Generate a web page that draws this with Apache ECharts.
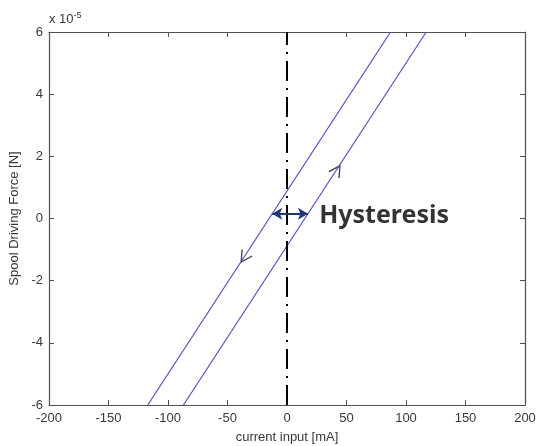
<!DOCTYPE html>
<html>
<head>
<meta charset="utf-8">
<script src="https://cdn.jsdelivr.net/npm/echarts@6/dist/echarts.min.js"></script>
<style>
  html, body { margin: 0; padding: 0; background: #fff; }
  #chart { width: 536px; height: 446px; }
</style>
</head>
<body>
<div id="chart"></div>
<script>
// Spool driving force vs. current input (force in units of 1e-5 N)
var xTicks = [-200, -150, -100, -50, 0, 50, 100, 150, 200];
var yTicks = [-6, -4, -2, 0, 2, 4, 6];

// Two parallel branches of the hysteresis loop: [current mA, force]
var branchLeft  = [[-117, -6], [87, 6]];
var branchRight = [[-87, -6], [117, 6]];

// Direction markers on each branch
var arrowUp   = [[42, 1.55]];
var arrowDown = [[-36, -1.25]];

// Reference line at zero current
var zeroLine = [[0, -6], [0, 6]];

// Hysteresis width indicator (between the two branches) and its label
var widthArrow = [[-12.4, 0.15], [17.6, 0.15]];
var widthLabel = [[27, 0.1]];
var labelText = 'Hysteresis';

var axisColor = '#505050';
var textColor = '#383838';
var lineColor = '#5252c0';
var font = 'Liberation Sans, Arial, sans-serif';

var chevron = 'path://M0,0 L10,5 L0,10';

var chart = echarts.init(document.getElementById('chart'));

function baseX(pos, show) {
  return {
    type: 'value', position: pos,
    min: xTicks[0], max: xTicks[xTicks.length - 1], interval: 50,
    splitLine: { show: false },
    axisLine: { show: true, onZero: false, lineStyle: { color: axisColor, width: 1.2 } },
    axisTick: { show: true, inside: true, length: 5, lineStyle: { color: axisColor } },
    axisLabel: { show: show, color: textColor, fontSize: 13, fontFamily: font, margin: 7 }
  };
}
function baseY(pos, show) {
  return {
    type: 'value', position: pos,
    min: yTicks[0], max: yTicks[yTicks.length - 1], interval: 2,
    splitLine: { show: false },
    axisLine: { show: true, onZero: false, lineStyle: { color: axisColor, width: 1.2 } },
    axisTick: { show: true, inside: true, length: 5, lineStyle: { color: axisColor } },
    axisLabel: { show: show, color: textColor, fontSize: 13, fontFamily: font, margin: 6 }
  };
}

var xBottom = baseX('bottom', true);
xBottom.name = 'current input [mA]';
xBottom.nameLocation = 'middle';
xBottom.nameGap = 26;
xBottom.nameTextStyle = { color: textColor, fontSize: 13, fontFamily: font };

var yLeft = baseY('left', true);
yLeft.name = 'Spool Driving Force [N]';
yLeft.nameLocation = 'middle';
yLeft.nameGap = 23;
yLeft.nameTextStyle = { color: textColor, fontSize: 13, fontFamily: font };

var option = {
  animation: false,
  backgroundColor: '#fff',
  grid: { left: 49, right: 11, top: 32, bottom: 41, containLabel: false, outerBoundsMode: 'none' },
  xAxis: [xBottom, baseX('top', false)],
  yAxis: [yLeft, baseY('right', false)],
  graphic: [{
    type: 'text', left: 49, top: 11,
    style: {
      text: 'x 10{s|-5}',
      rich: { s: { fontSize: 9, verticalAlign: 'top', padding: [0, 0, 8, 0], fill: textColor, fontFamily: font } },
      fill: textColor, fontSize: 13, fontFamily: font
    }
  }],
  series: [
    { type: 'line', data: branchLeft, symbol: 'none', lineStyle: { color: lineColor, width: 1.2 } },
    { type: 'line', data: branchRight, symbol: 'none', lineStyle: { color: lineColor, width: 1.2 } },
    { type: 'line', data: zeroLine, symbol: 'none',
      lineStyle: { color: '#000', width: 2, type: [20, 7, 2, 7] } },
    { type: 'line', data: widthArrow, symbol: 'none', lineStyle: { width: 0, opacity: 0 },
      markLine: {
        silent: true, symbol: ['arrow', 'arrow'], symbolSize: [9, 10],
        lineStyle: { color: '#1c3678', width: 2, type: 'solid' },
        label: { show: false },
        data: [[{ coord: widthArrow[0] }, { coord: widthArrow[1] }]]
      } },
    { id: 'up', type: 'scatter', data: arrowUp, symbol: chevron, symbolSize: [11, 12],
      symbolKeepAspect: false,
      itemStyle: { color: 'none', borderColor: '#111', borderWidth: 1.3 } },
    { id: 'down', type: 'scatter', data: arrowDown, symbol: chevron, symbolSize: [11, 12],
      symbolKeepAspect: false,
      itemStyle: { color: 'none', borderColor: '#111', borderWidth: 1.3 } },
    { type: 'scatter', data: widthLabel, symbolSize: 0,
      label: { show: true, position: 'right', distance: 0, formatter: labelText,
        color: '#000', fontSize: 25, fontWeight: 'bold', fontFamily: 'Noto Sans, sans-serif' } }
  ]
};
chart.setOption(option);

// Orient the direction markers along the branch slope in screen space
var p0 = chart.convertToPixel({ xAxisIndex: 0, yAxisIndex: 0 }, branchRight[0]);
var p1 = chart.convertToPixel({ xAxisIndex: 0, yAxisIndex: 0 }, branchRight[1]);
var ang = Math.atan2(p0[1] - p1[1], p1[0] - p0[0]) * 180 / Math.PI;
chart.setOption({ series: [
  { id: 'up', symbolRotate: ang },
  { id: 'down', symbolRotate: ang + 180 }
] });
</script>
</body>
</html>
